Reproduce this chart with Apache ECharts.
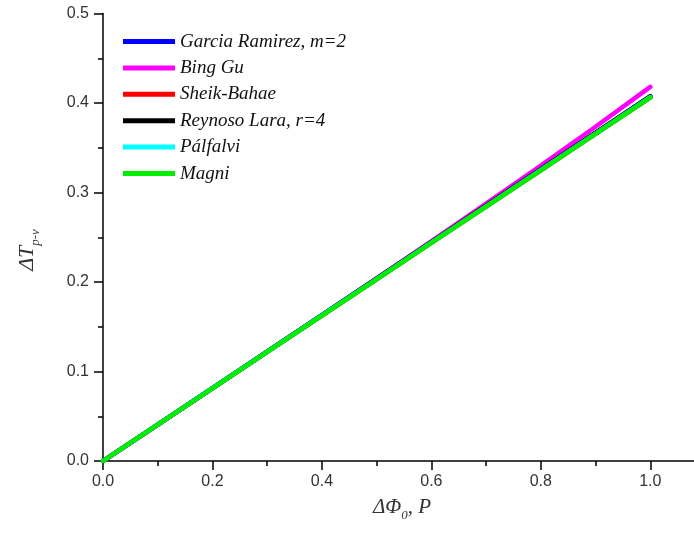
<!DOCTYPE html>
<html>
<head>
<meta charset="utf-8">
<script src="https://cdn.jsdelivr.net/npm/echarts@6/dist/echarts.min.js"></script>
<style>
html,body{margin:0;padding:0;background:#fff;}
#c{width:694px;height:536px;}
</style>
</head>
<body>
<div id="c"></div>
<script>
var xValues = [0, 0.1, 0.2, 0.3, 0.4, 0.5, 0.6, 0.7, 0.8, 0.9, 1.0];
var seriesNames = ['Garcia Ramirez, m=2', 'Bing Gu', 'Sheik-Bahae', 'Reynoso Lara, r=4', 'Pálfalvi', 'Magni'];
var garciaRamirez = [0, 0.0407, 0.0815, 0.1222, 0.1630, 0.2037, 0.2445, 0.2852, 0.3260, 0.3667, 0.4075];
var bingGu = [0, 0.0405, 0.0811, 0.1219, 0.1628, 0.2040, 0.2455, 0.2875, 0.3300, 0.3735, 0.4180];
var sheikBahae = [0, 0.0406, 0.0812, 0.1218, 0.1624, 0.2030, 0.2436, 0.2842, 0.3248, 0.3654, 0.4060];
var reynosoLara = [0, 0.0407, 0.0815, 0.1222, 0.1630, 0.2037, 0.2445, 0.2852, 0.3260, 0.3667, 0.4075];
var palfalvi = [0, 0.0406, 0.0813, 0.1219, 0.1626, 0.2032, 0.2439, 0.2845, 0.3252, 0.3658, 0.4065];
var magni = [0, 0.0406, 0.0812, 0.1218, 0.1624, 0.2030, 0.2436, 0.2842, 0.3248, 0.3654, 0.4060];
var colors = ['#0000ff', '#ff00ff', '#ff0000', '#000000', '#00ffff', '#00ee00'];
var allData = [garciaRamirez, bingGu, sheikBahae, reynosoLara, palfalvi, magni];

function pairs(ys) { return xValues.map(function (x, i) { return [x, ys[i]]; }); }

var chart = echarts.init(document.getElementById('c'), null, {renderer: 'canvas'});
var axisFont = {fontFamily: 'Liberation Sans, Arial, sans-serif', fontSize: 16, color: '#333'};
chart.setOption({
  animation: false,
  backgroundColor: '#fff',
  grid: {left: 103, right: -11, top: 13.5, bottom: 75, containLabel: false, outerBoundsMode: 'none'},
  legend: {
    orient: 'vertical', left: 118, top: 27, itemWidth: 52, itemHeight: 5, itemGap: 7.4,
    icon: 'rect',
    textStyle: {fontFamily: 'Liberation Serif, Times New Roman, serif', fontStyle: 'italic', fontSize: 19, color: '#111', lineHeight: 19},
    data: seriesNames
  },
  xAxis: {
    type: 'value', min: 0, max: 1.1, interval: 0.2,
    axisLine: {show: true, lineStyle: {color: '#000', width: 1.5}},
    axisTick: {show: true, inside: false, length: 9, lineStyle: {color: '#000', width: 1.5}},
    minorTick: {show: true, splitNumber: 2, length: 5, lineStyle: {color: '#000', width: 1.5}},
    splitLine: {show: false},
    axisLabel: Object.assign({margin: 13, formatter: function (v) { return v > 1.01 ? '' : v.toFixed(1); }}, axisFont)
  },
  yAxis: {
    type: 'value', min: 0, max: 0.5, interval: 0.1,
    axisLine: {show: true, lineStyle: {color: '#000', width: 1.5}},
    axisTick: {show: true, inside: false, length: 9, lineStyle: {color: '#000', width: 1.5}},
    minorTick: {show: true, splitNumber: 2, length: 5, lineStyle: {color: '#000', width: 1.5}},
    splitLine: {show: false},
    axisLabel: Object.assign({margin: 14, formatter: function (v) { return v.toFixed(1); }}, axisFont)
  },
  graphic: [
    {
      type: 'text', x: 27, y: 250, rotation: Math.PI / 2,
      style: {
        text: '{a|ΔT}{b|p-v}', align: 'center', verticalAlign: 'middle',
        rich: {
          a: {fontFamily: 'Liberation Serif, serif', fontStyle: 'italic', fontSize: 22, fill: '#333', lineHeight: 30, verticalAlign: 'middle'},
          b: {fontFamily: 'Liberation Serif, serif', fontStyle: 'italic', fontSize: 13, fill: '#333', lineHeight: 30, verticalAlign: 'bottom'}
        }
      }
    },
    {
      type: 'text', x: 402, y: 507,
      style: {
        text: '{a|ΔΦ}{b|0}{a|, P}', align: 'center', verticalAlign: 'middle',
        rich: {
          a: {fontFamily: 'Liberation Serif, serif', fontStyle: 'italic', fontSize: 21, fill: '#333', lineHeight: 30, verticalAlign: 'middle'},
          b: {fontFamily: 'Liberation Serif, serif', fontStyle: 'italic', fontSize: 13, fill: '#333', lineHeight: 30, verticalAlign: 'bottom'}
        }
      }
    }
  ],
  series: seriesNames.map(function (n, i) {
    return {
      name: n, type: 'line', data: pairs(allData[i]), showSymbol: false, symbol: 'none',
      lineStyle: {color: colors[i], width: 4.5, cap: 'round'}, itemStyle: {color: colors[i]},
      z: 2 + i
    };
  })
});
</script>
</body>
</html>
